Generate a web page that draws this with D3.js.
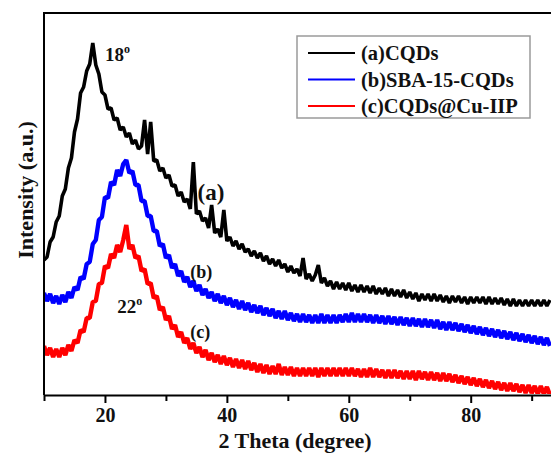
<!DOCTYPE html>
<html>
<head>
<meta charset="utf-8">
<script src="https://cdn.jsdelivr.net/npm/d3@7/dist/d3.min.js"></script>
<style>
  html, body { margin: 0; padding: 0; background: #fff; }
  svg { display: block; }
  text { font-family: "Liberation Serif", "Times New Roman", serif; font-weight: bold; fill: #111; }
</style>
</head>
<body>
<script>
// XRD patterns, intensity (a.u.) sampled every 0.5 degree from 2θ = 10 to 93
const twoThetaStart = 10;
const twoThetaStep = 0.5;

const seriesNames = ["(a)CQDs", "(b)SBA-15-CQDs", "(c)CQDs@Cu-IIP"];
const seriesColors = ["#000000", "#0000ff", "#ff0000"];

const intensityA = [
  135,138,153,158,173,179,199,206,227,237,263,276,302,308,324,331,352,330,321,303,
  300,286,287,275,277,265,268,258,262,251,255,246,249,275,241,273,234,235,224,227,
  217,220,209,210,199,203,193,196,186,233,181,184,174,177,167,190,162,166,158,185,
  154,158,149,154,146,151,143,146,139,144,137,142,134,139,131,136,129,135,127,131,
  123,129,122,126,119,137,116,121,114,120,130,112,117,109,114,106,113,106,112,105,
  112,104,110,103,110,103,109,102,109,101,107,101,107,99,106,99,105,98,105,97,
  103,96,102,94,101,95,101,94,101,94,100,93,99,92,99,93,99,92,98,91,
  98,92,98,92,98,91,98,91,97,91,97,90,96,89,96,89,95,89,95,89,
  95,89,95,89,95,89,95
];

const intensityB = [
  102,94,101,92,99,91,100,93,103,97,108,105,118,116,131,133,151,155,175,178,
  198,197,213,210,225,219,231,235,222,224,210,210,194,194,179,179,164,164,149,151,
  137,140,127,131,119,124,113,118,108,114,104,110,100,106,97,103,94,101,92,99,
  90,97,88,95,86,94,85,92,83,90,82,89,80,87,79,86,77,84,76,84,
  75,82,74,81,73,81,73,80,72,80,72,81,72,80,72,80,72,80,73,81,
  73,82,73,81,73,81,73,80,72,80,72,79,71,79,71,78,70,78,70,77,
  69,77,69,76,68,76,68,75,67,75,66,73,65,73,65,72,64,71,63,70,
  62,69,61,68,60,67,59,66,58,65,57,64,56,63,55,62,54,61,53,60,
  52,59,51,58,50,57,49
];

const intensityC = [
  49,40,47,38,46,38,47,40,50,44,55,52,65,63,77,77,93,94,111,112,
  129,127,141,137,150,143,155,170,146,150,137,139,124,126,111,112,97,99,85,88,
  75,79,66,70,58,63,52,57,46,52,42,48,38,45,35,42,33,40,31,39,
  30,37,28,36,27,35,26,34,25,32,23,31,22,30,21,29,21,31,20,28,
  20,28,19,27,19,27,19,27,19,27,18,27,19,27,19,27,19,27,19,27,
  19,27,19,26,18,26,18,27,18,26,18,25,17,25,17,25,17,24,16,24,
  16,24,15,24,16,23,15,23,15,22,14,22,14,21,13,20,12,19,11,18,
  10,17,9,16,8,15,7,14,6,13,5,12,4,12,4,11,3,10,2,10,
  2,9,1,9,1,8,0
];

const majorTicks = [20, 40, 60, 80];
const minorTicks = [10, 30, 50, 70, 90];
const xTitle = "2 Theta (degree)";
const yTitle = "Intensity (a.u.)";

const width = 551, height = 455;
const margin = { left: 44, top: 13, bottom: 395 };
const plotRight = 553;

const x = d3.scaleLinear().domain([10, 93.5]).range([margin.left, plotRight]);
const y = d3.scaleLinear().domain([0, 382]).range([margin.bottom, margin.top]);

const svg = d3.select("body").append("svg")
  .attr("width", width).attr("height", height);

svg.append("defs").append("clipPath").attr("id", "plot-clip")
  .append("rect")
  .attr("x", margin.left + 1).attr("y", margin.top)
  .attr("width", plotRight - margin.left).attr("height", margin.bottom - margin.top - 1);

const toPoints = arr => arr.map((v, i) => [twoThetaStart + i * twoThetaStep, v]);
const allSeries = [intensityA, intensityB, intensityC].map(toPoints);

const line = d3.line().x(d => x(d[0])).y(d => y(d[1]));

const traces = svg.append("g").attr("clip-path", "url(#plot-clip)");
// noisy scans: a heavy stroke gives each trace its band of scatter
const traceWidths = [3.6, 4.4, 4.4];
[2, 1, 0].forEach(k => {
  traces.append("path")
    .datum(allSeries[k])
    .attr("fill", "none")
    .attr("stroke", seriesColors[k])
    .attr("stroke-width", traceWidths[k])
    .attr("stroke-linejoin", "bevel")
    .attr("d", line);
});

// frame: left axis line and top border
svg.append("path")
  .attr("d", `M${plotRight + 2},${margin.top}H${margin.left}V${margin.bottom}`)
  .attr("fill", "none").attr("stroke", "#000").attr("stroke-width", 2);

// x axis with major and minor ticks
const xAxisMajor = d3.axisBottom(x).tickValues(majorTicks).tickSize(8).tickSizeOuter(0).tickPadding(5);
const gx = svg.append("g").attr("transform", `translate(0,${margin.bottom})`).call(xAxisMajor);
gx.select(".domain").attr("stroke-width", 2);
gx.selectAll(".tick line").attr("stroke-width", 2);
gx.selectAll(".tick text").attr("font-size", 20).attr("font-family", "Liberation Serif, serif")
  .attr("font-weight", "bold").attr("fill", "#111");

const xAxisMinor = d3.axisBottom(x).tickValues(minorTicks).tickSize(6).tickSizeOuter(0).tickFormat("");
const gxm = svg.append("g").attr("transform", `translate(0,${margin.bottom})`).call(xAxisMinor);
gxm.select(".domain").remove();
gxm.selectAll(".tick line").attr("stroke-width", 2);

// axis titles
svg.append("text")
  .attr("x", 295).attr("y", 448)
  .attr("text-anchor", "middle").attr("font-size", 22)
  .text(xTitle);

svg.append("text")
  .attr("transform", "translate(33,190) rotate(-90)")
  .attr("text-anchor", "middle").attr("font-size", 22)
  .text(yTitle);

// peak annotations
function degreeLabel(px, py, num) {
  const t = svg.append("text").attr("x", px).attr("y", py).attr("font-size", 19);
  t.append("tspan").text(num);
  t.append("tspan").attr("font-size", 12).attr("dy", -8).text("o");
}
degreeLabel(x(20.0), y(334), "18");
degreeLabel(x(22.0), y(82), "22");

svg.append("text").attr("x", x(35.2)).attr("y", y(195)).attr("font-size", 23).text("(a)");
svg.append("text").attr("x", x(34.0)).attr("y", y(117)).attr("font-size", 18).text("(b)");
svg.append("text").attr("x", x(34.0)).attr("y", y(57)).attr("font-size", 18).text("(c)");

// legend
const legend = svg.append("g").attr("transform", "translate(297,36)");
legend.append("rect")
  .attr("width", 233).attr("height", 82)
  .attr("fill", "#fff").attr("stroke", "#9a9a9a").attr("stroke-width", 1.5);
seriesNames.forEach((name, i) => {
  const ly = 17 + i * 26.5;
  legend.append("line")
    .attr("x1", 11).attr("x2", 58).attr("y1", ly).attr("y2", ly)
    .attr("stroke", seriesColors[i]).attr("stroke-width", 2);
  legend.append("text")
    .attr("x", 64).attr("y", ly + 7).attr("font-size", 20.5)
    .text(name);
});
</script>
</body>
</html>
